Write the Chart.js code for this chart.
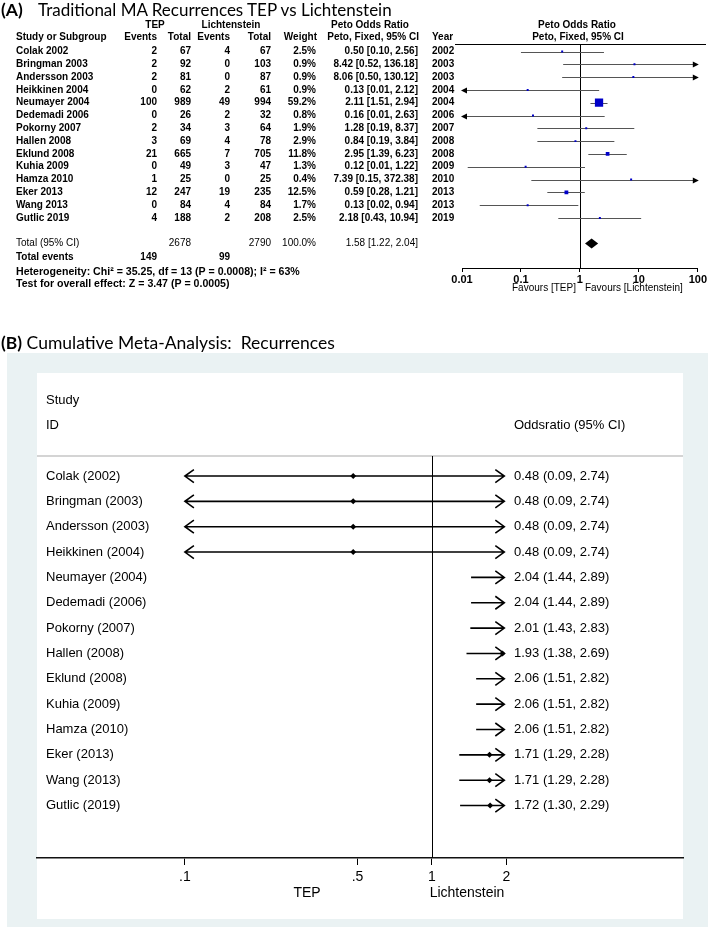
<!DOCTYPE html>
<html>
<head>
<meta charset="utf-8">
<script src="https://cdn.jsdelivr.net/npm/chart.js@4.4.1/dist/chart.umd.min.js"></script>
<style>
  body { margin: 0; background: #fff; width: 708px; height: 929px; position: relative; overflow: hidden; }
  .title { position: absolute; font-family: Lato, sans-serif; font-size: 17.5px; white-space: pre; color: #000; line-height: 20px; }
  #chartA { position: absolute; left: 0; top: 0; }
  #chartB { position: absolute; left: 0; top: 300px; }
</style>
</head>
<body>
<canvas id="chartA" width="708" height="300"></canvas>
<canvas id="chartB" width="708" height="629"></canvas>
<div class="title" style="left:1px;top:0px"><b>(A)</b></div>
<div class="title" style="left:38px;top:0px;font-size:17px">Traditional MA Recurrences TEP vs Lichtenstein</div>
<div class="title" style="left:1px;top:333px"><b>(B)</b> Cumulative Meta-Analysis:  Recurrences</div>
<script>
// Panel A — estudios individuales
const studiesA = ["Colak 2002", "Bringman 2003", "Andersson 2003", "Heikkinen 2004", "Neumayer 2004", "Dedemadi 2006", "Pokorny 2007", "Hallen 2008", "Eklund 2008", "Kuhia 2009", "Hamza 2010", "Eker 2013", "Wang 2013", "Gutlic 2019"];
const tepEvents = [2, 2, 2, 0, 100, 0, 2, 3, 21, 0, 1, 12, 0, 4];
const tepTotal = [67, 92, 81, 62, 989, 26, 34, 69, 665, 49, 25, 247, 84, 188];
const lichEvents = [4, 0, 0, 2, 49, 2, 3, 4, 7, 3, 0, 19, 4, 2];
const lichTotal = [67, 103, 87, 61, 994, 32, 64, 78, 705, 47, 25, 235, 84, 208];
const weightA = [2.5, 0.9, 0.9, 0.9, 59.2, 0.8, 1.9, 2.9, 11.8, 1.3, 0.4, 12.5, 1.7, 2.5];
const orA = [0.50, 8.42, 8.06, 0.13, 2.11, 0.16, 1.28, 0.84, 2.95, 0.12, 7.39, 0.59, 0.13, 2.18];
const loA = [0.10, 0.52, 0.50, 0.008, 1.51, 0.009, 0.19, 0.19, 1.39, 0.0125, 0.15, 0.28, 0.02, 0.43];
const hiA = [2.56, 136.18, 130.12, 2.12, 2.94, 2.63, 8.37, 3.84, 6.23, 1.22, 372.38, 1.21, 0.94, 10.94];
const yearA = [2002, 2003, 2003, 2004, 2004, 2006, 2007, 2008, 2008, 2009, 2010, 2013, 2013, 2019];
const pooledA = [1.58, 1.22, 2.04];
const totalWeight = 100.0;
const heteroText = "Heterogeneity: Chi\u00b2 = 35.25, df = 13 (P = 0.0008); I\u00b2 = 63%";
const effectText = "Test for overall effect: Z = 3.47 (P = 0.0005)";
const ticksA = [0.01, 0.1, 1, 10, 100];
const tickLabelsA = ["0.01", "0.1", "1", "10", "100"];

// Panel B — meta-análisis acumulado
const studiesB = ["Colak (2002)", "Bringman (2003)", "Andersson (2003)", "Heikkinen (2004)", "Neumayer (2004)", "Dedemadi (2006)", "Pokorny (2007)", "Hallen (2008)", "Eklund (2008)", "Kuhia (2009)", "Hamza (2010)", "Eker (2013)", "Wang (2013)", "Gutlic (2019)"];
const orB = [0.48, 0.48, 0.48, 0.48, 2.04, 2.04, 2.01, 1.93, 2.06, 2.06, 2.06, 1.71, 1.71, 1.72];
const loB = [0.09, 0.09, 0.09, 0.09, 1.44, 1.44, 1.43, 1.38, 1.51, 1.51, 1.51, 1.29, 1.29, 1.30];
const hiB = [2.74, 2.74, 2.74, 2.74, 2.89, 2.89, 2.83, 2.69, 2.82, 2.82, 2.82, 2.28, 2.28, 2.29];
const ticksB = [0.1, 0.5, 1, 2];
const tickLabelsB = [".1", ".5", "1", "2"];
const clipB = [0.1, 2];

const sum = a => a.reduce((s, v) => s + v, 0);
const f2 = v => v.toFixed(2);

function txt(ctx, s, x, y, align, font) {
  ctx.font = font;
  ctx.textAlign = align;
  ctx.textBaseline = "middle";
  ctx.fillStyle = "#000";
  ctx.fillText(s, x, y);
}

// ---------- Panel A ----------
const BOLD = 'bold 10px "Liberation Sans"';
const NORM = '10px "Liberation Sans"';
const FOOT = 'bold 10.6px "Liberation Sans"';

const forestA = {
  id: "forestA",
  beforeDatasetsDraw(chart) {
    const { ctx, chartArea: ca, scales: { x, y } } = chart;
    ctx.save();
    ctx.strokeStyle = "#000";
    ctx.lineWidth = 1;
    ctx.beginPath();
    ctx.moveTo(455, Math.round(ca.top) + 0.5);
    ctx.lineTo(706, Math.round(ca.top) + 0.5);
    const x1 = Math.round(x.getPixelForValue(1)) + 0.5;
    ctx.moveTo(x1, ca.top);
    ctx.lineTo(x1, ca.bottom);
    ctx.stroke();

    ctx.strokeStyle = "#555";
    ctx.fillStyle = "#000";
    orA.forEach((v, i) => {
      const py = Math.round(y.getPixelForValue(i)) + 0.5;
      const xl = x.getPixelForValue(Math.max(loA[i], 0.01));
      const xr = x.getPixelForValue(Math.min(hiA[i], 100));
      ctx.beginPath();
      ctx.moveTo(xl, py);
      ctx.lineTo(xr, py);
      ctx.stroke();
      if (hiA[i] > 100) {
        ctx.beginPath();
        ctx.moveTo(xr + 1, py);
        ctx.lineTo(xr - 5, py - 3);
        ctx.lineTo(xr - 5, py + 3);
        ctx.fill();
      }
      if (loA[i] < 0.01) {
        ctx.beginPath();
        ctx.moveTo(xl - 1, py);
        ctx.lineTo(xl + 5, py - 3);
        ctx.lineTo(xl + 5, py + 3);
        ctx.fill();
      }
    });

    // diamante del total
    const dy = y.getPixelForValue(15);
    ctx.beginPath();
    ctx.moveTo(x.getPixelForValue(pooledA[1]), dy);
    ctx.lineTo(x.getPixelForValue(pooledA[0]), dy - 5);
    ctx.lineTo(x.getPixelForValue(pooledA[2]), dy);
    ctx.lineTo(x.getPixelForValue(pooledA[0]), dy + 5);
    ctx.closePath();
    ctx.fill();
    ctx.restore();
  },
  afterDraw(chart) {
    const { ctx, scales: { x, y } } = chart;
    ctx.save();
    // encabezados
    txt(ctx, "TEP", 155, 25, "center", BOLD);
    txt(ctx, "Lichtenstein", 231, 25, "center", BOLD);
    txt(ctx, "Peto Odds Ratio", 370, 25, "center", BOLD);
    txt(ctx, "Peto Odds Ratio", 577, 25, "center", BOLD);
    txt(ctx, "Study or Subgroup", 16, 37, "left", BOLD);
    txt(ctx, "Events", 157, 37, "right", BOLD);
    txt(ctx, "Total", 191, 37, "right", BOLD);
    txt(ctx, "Events", 230, 37, "right", BOLD);
    txt(ctx, "Total", 271, 37, "right", BOLD);
    txt(ctx, "Weight", 317, 37, "right", BOLD);
    txt(ctx, "Peto, Fixed, 95% CI", 419, 37, "right", BOLD);
    txt(ctx, "Year", 432, 37, "left", BOLD);
    txt(ctx, "Peto, Fixed, 95% CI", 578, 37, "center", BOLD);

    studiesA.forEach((s, i) => {
      const py = y.getPixelForValue(i);
      txt(ctx, s, 16, py, "left", BOLD);
      txt(ctx, String(tepEvents[i]), 157, py, "right", BOLD);
      txt(ctx, String(tepTotal[i]), 191, py, "right", BOLD);
      txt(ctx, String(lichEvents[i]), 230, py, "right", BOLD);
      txt(ctx, String(lichTotal[i]), 271, py, "right", BOLD);
      txt(ctx, weightA[i].toFixed(1) + "%", 316, py, "right", BOLD);
      txt(ctx, f2(orA[i]) + " [" + f2(loA[i]) + ", " + f2(hiA[i]) + "]", 418, py, "right", BOLD);
      txt(ctx, String(yearA[i]), 432, py, "left", BOLD);
    });

    const ty = y.getPixelForValue(15);
    txt(ctx, "Total (95% CI)", 16, ty, "left", NORM);
    txt(ctx, String(sum(tepTotal)), 191, ty, "right", NORM);
    txt(ctx, String(sum(lichTotal)), 271, ty, "right", NORM);
    txt(ctx, totalWeight.toFixed(1) + "%", 316, ty, "right", NORM);
    txt(ctx, f2(pooledA[0]) + " [" + f2(pooledA[1]) + ", " + f2(pooledA[2]) + "]", 418, ty, "right", NORM);

    const ey = y.getPixelForValue(16.1);
    txt(ctx, "Total events", 16, ey, "left", BOLD);
    txt(ctx, String(sum(tepEvents)), 157, ey, "right", BOLD);
    txt(ctx, String(sum(lichEvents)), 230, ey, "right", BOLD);
    txt(ctx, heteroText, 16, y.getPixelForValue(17.2), "left", FOOT);
    txt(ctx, effectText, 16, y.getPixelForValue(18.15), "left", FOOT);

    const x1 = x.getPixelForValue(1);
    txt(ctx, "Favours [TEP]", x1 - 4, 288, "right", NORM);
    txt(ctx, "Favours [Lichtenstein]", x1 + 5, 288, "left", NORM);
    ctx.restore();
  }
};

new Chart(document.getElementById("chartA"), {
  type: "scatter",
  data: {
    datasets: [
      {
        data: orA.map((v, i) => ({ x: v, y: i })),
        pointStyle: "rect",
        pointRadius: weightA.map(w => Math.max(1.4, 0.76 * Math.sqrt(w))),
        backgroundColor: "#0000c8",
        borderWidth: 0
      }
    ]
  },
  options: {
    responsive: false,
    animation: false,
    events: [],
    layout: { padding: { left: 462, right: 10, top: 44, bottom: 8 } },
    plugins: { legend: { display: false }, tooltip: { enabled: false } },
    scales: {
      x: {
        type: "logarithmic",
        min: 0.01,
        max: 100,
        afterFit: s => { s.height = 24; },
        afterBuildTicks: s => { s.ticks = ticksA.map(v => ({ value: v })); },
        ticks: {
          autoSkip: false,
          maxRotation: 0,
          padding: 1,
          color: "#000",
          font: { family: "Liberation Sans", size: 11, weight: "bold" },
          callback: (v, i) => tickLabelsA[i]
        },
        grid: { drawOnChartArea: false, tickLength: 4, color: "#000" },
        border: { color: "#000", width: 1 }
      },
      y: { type: "linear", display: false, reverse: true, min: -0.586, max: 16.91 }
    }
  },
  plugins: [forestA]
});

// ---------- Panel B ----------
const FB = '13px "Liberation Sans"';

const forestB = {
  id: "forestB",
  beforeDraw(chart) {
    const { ctx } = chart;
    ctx.save();
    ctx.fillStyle = "#eaf2f3";
    ctx.fillRect(7, 53, 701, 574);
    ctx.fillStyle = "#fff";
    ctx.fillRect(37, 73, 646, 546);
    ctx.restore();
  },
  beforeDatasetsDraw(chart) {
    const { ctx, chartArea: ca, scales: { x, y } } = chart;
    ctx.save();
    ctx.strokeStyle = "#d4d4d4";
    ctx.lineWidth = 2;
    ctx.beginPath();
    ctx.moveTo(37, ca.top);
    ctx.lineTo(683, ca.top);
    ctx.stroke();

    ctx.strokeStyle = "#000";
    ctx.lineWidth = 1;
    const x1 = Math.round(x.getPixelForValue(1)) + 0.5;
    ctx.beginPath();
    ctx.moveTo(x1, ca.top);
    ctx.lineTo(x1, ca.bottom);
    ctx.stroke();

    ctx.lineWidth = 1.6;
    orB.forEach((v, i) => {
      const py = y.getPixelForValue(i);
      const xl = x.getPixelForValue(Math.max(loB[i], clipB[0]));
      const xr = x.getPixelForValue(Math.min(hiB[i], clipB[1])) - 2;
      ctx.beginPath();
      ctx.moveTo(xl, py);
      ctx.lineTo(xr, py);
      if (hiB[i] > clipB[1]) {
        ctx.moveTo(xr - 9, py - 6.5);
        ctx.lineTo(xr, py);
        ctx.lineTo(xr - 9, py + 6.5);
      }
      if (loB[i] < clipB[0]) {
        ctx.moveTo(xl + 9, py - 6.5);
        ctx.lineTo(xl, py);
        ctx.lineTo(xl + 9, py + 6.5);
      }
      ctx.stroke();
    });
    ctx.restore();
  },
  afterDraw(chart) {
    const { ctx, scales: { y } } = chart;
    ctx.save();
    txt(ctx, "Study", 46, 100, "left", FB);
    txt(ctx, "ID", 46, 125, "left", FB);
    txt(ctx, "Oddsratio (95% CI)", 514, 125, "left", FB);
    studiesB.forEach((s, i) => {
      const py = y.getPixelForValue(i);
      txt(ctx, s, 46, py, "left", FB);
      txt(ctx, f2(orB[i]) + " (" + f2(loB[i]) + ", " + f2(hiB[i]) + ")", 514, py, "left", FB);
    });
    txt(ctx, "TEP", 307, 593, "center", '14px "Liberation Sans"');
    txt(ctx, "Lichtenstein", 467, 593, "center", '14px "Liberation Sans"');
    ctx.restore();
  }
};

new Chart(document.getElementById("chartB"), {
  type: "scatter",
  data: {
    datasets: [
      {
        data: orB.map((v, i) => ({ x: v, y: i })),
        pointStyle: "rectRot",
        pointRadius: c => (orB[c.dataIndex] > clipB[1] ? 0 : 3),
        backgroundColor: "#000",
        borderWidth: 0
      }
    ]
  },
  options: {
    responsive: false,
    animation: false,
    events: [],
    layout: { padding: { left: 37, right: 25, top: 156, bottom: 41 } },
    plugins: { legend: { display: false }, tooltip: { enabled: false } },
    scales: {
      x: {
        type: "logarithmic",
        min: 0.0252,
        max: 10.38,
        afterFit: s => { s.height = 30; },
        afterBuildTicks: s => { s.ticks = ticksB.map(v => ({ value: v })); },
        ticks: {
          autoSkip: false,
          maxRotation: 0,
          padding: 4,
          color: "#000",
          font: { family: "Liberation Sans", size: 14 },
          callback: (v, i) => tickLabelsB[i]
        },
        grid: { drawOnChartArea: false, tickLength: 7, color: "#000", lineWidth: 1 },
        border: { color: "#111", width: 1.6 }
      },
      y: { type: "linear", display: false, reverse: true, min: -0.79, max: 15.07 }
    }
  },
  plugins: [forestB]
});
</script>
</body>
</html>
